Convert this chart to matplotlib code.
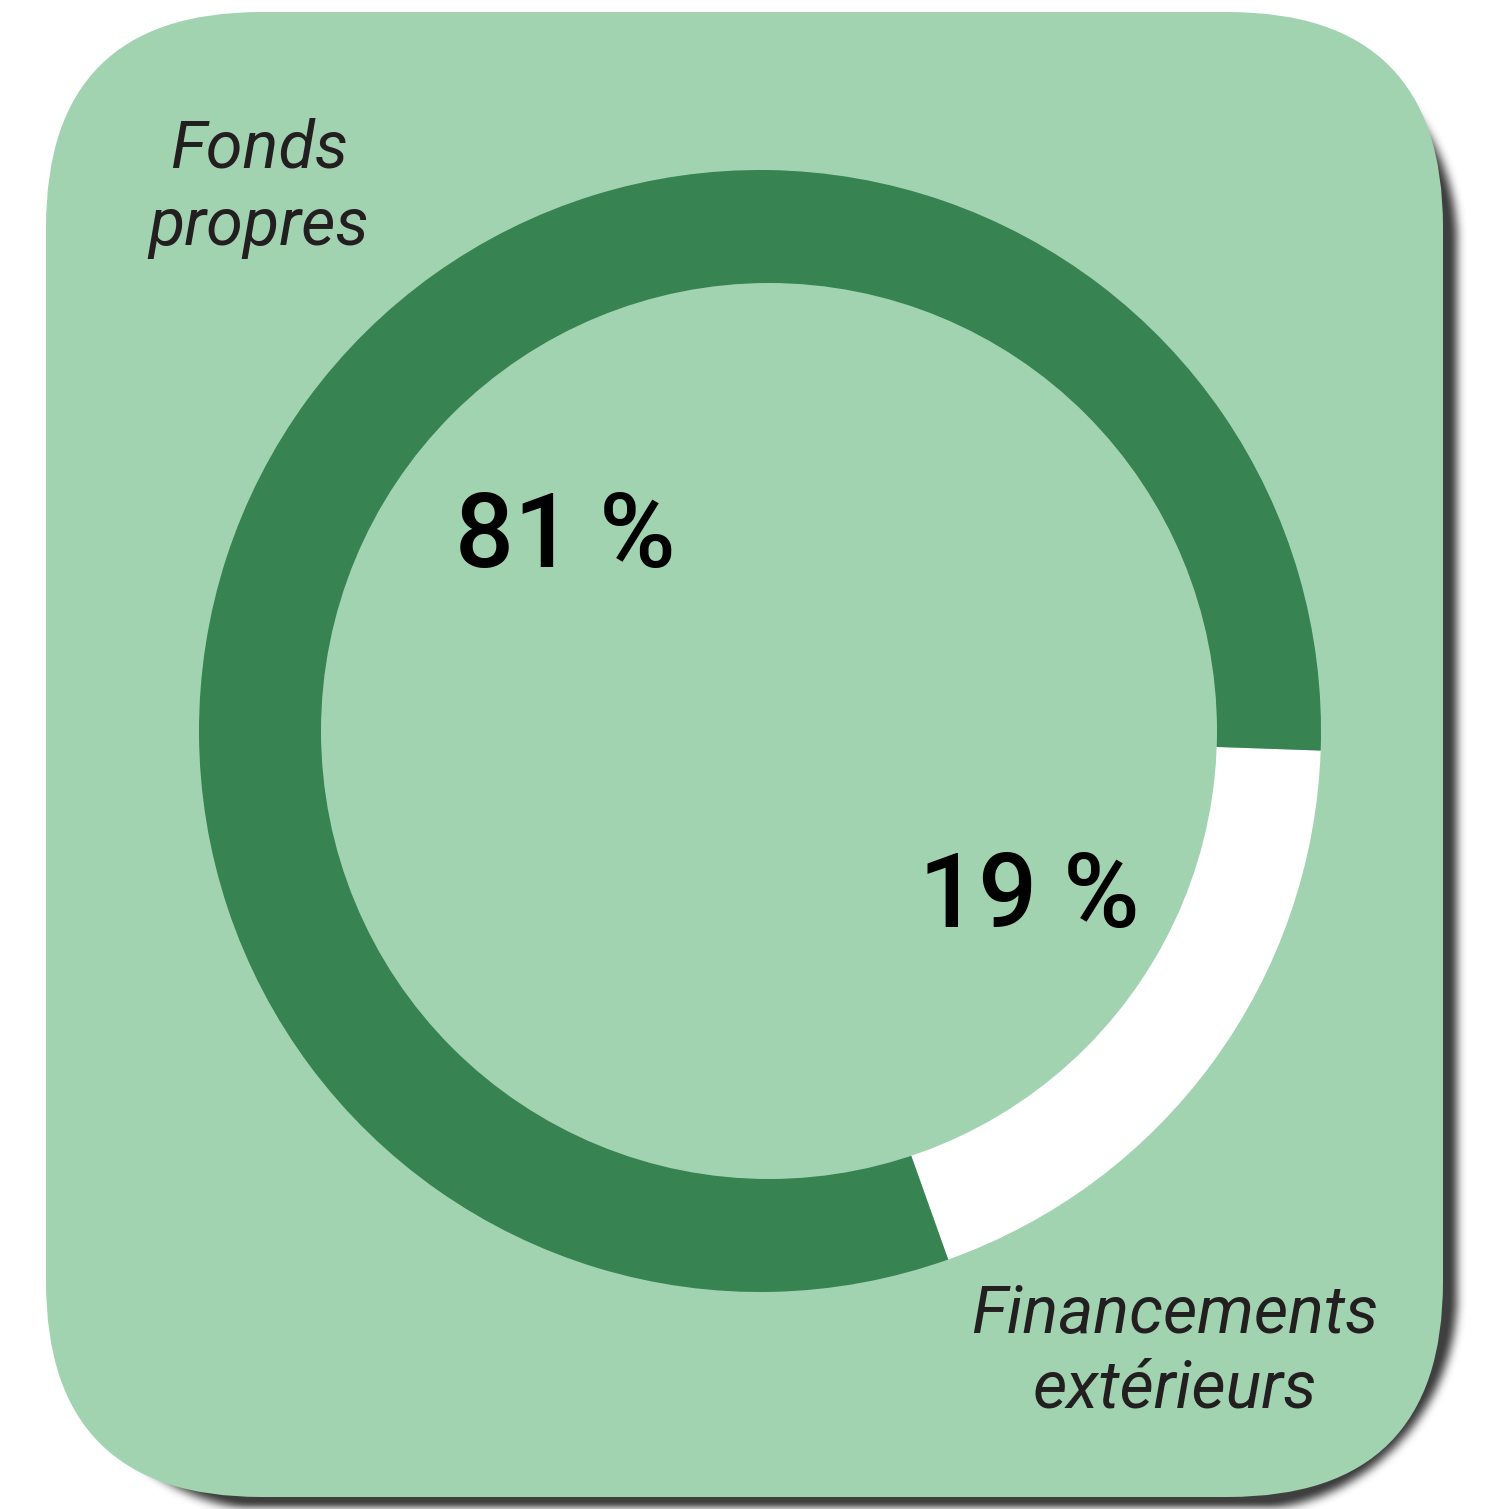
import numpy as np
import matplotlib.pyplot as plt
from matplotlib.patches import FancyBboxPatch, Circle

# ── Data ──
labels = ["Financements\nextérieurs", "Fonds\npropres"]
shares = [19, 81]
pct_labels = ["19 %", "81 %"]
colors = ["#ffffff", "#378352"]

BOX_COLOR = "#a1d3b1"
TEXT_COLOR = "#231f20"
FONT = ["Roboto", "DejaVu Sans"]

W, H = 1485, 1509
fig = plt.figure(figsize=(W / 100, H / 100), dpi=100)
ax = fig.add_axes([0, 0, 1, 1])
ax.axis("off")

# ── card geometry (pixel coords, y up) ──
bx, by, bw, bh, rad = 46, 12, 1397, 1485, 215


def rounded_mask(x0, y0, w, h, r):
    yy, xx = np.mgrid[0:H, 0:W] + 0.5
    yy = H - yy  # flip to y-up
    cx = np.clip(xx, x0 + r, x0 + w - r)
    cy = np.clip(yy, y0 + r, y0 + h - r)
    return ((xx - cx) ** 2 + (yy - cy) ** 2 <= r * r).astype(float)


def box_blur(a, k):
    ker = np.ones(k) / k
    a = np.apply_along_axis(lambda v: np.convolve(v, ker, mode="same"), 0, a)
    a = np.apply_along_axis(lambda v: np.convolve(v, ker, mode="same"), 1, a)
    return a


# soft drop shadow, offset right/down
shadow = rounded_mask(bx + 14, by - 14, bw, bh, rad)
for _ in range(3):
    shadow = box_blur(shadow, 9)
rgba = np.zeros((H, W, 4))
rgba[..., :3] = 0.25
rgba[..., 3] = np.clip(shadow * 1.05, 0, 1)
ax.imshow(rgba, extent=(0, W, 0, H), origin="upper", zorder=1,
          interpolation="nearest")

ax.add_patch(FancyBboxPatch((bx + rad, by + rad), bw - 2 * rad, bh - 2 * rad,
                            boxstyle=f"round,pad={rad}", fc=BOX_COLOR,
                            ec="none", zorder=2))

# ── donut (outer disc split, inner hole drawn on top) ──
wedges, _ = ax.pie(shares, colors=colors, startangle=-70.4, counterclock=True,
                   center=(760, 778), radius=561,
                   wedgeprops=dict(edgecolor="none"))
for w in wedges:
    w.set_zorder(3)
ax.add_patch(Circle((769, 778), 448, fc=BOX_COLOR, ec="none", zorder=3.5))

ax.set_xlim(0, W)
ax.set_ylim(0, H)
ax.set_aspect("auto")

# percentages
ax.text(1029, H - 927, pct_labels[0], fontsize=75, fontweight="medium",
        family=FONT, color="black", ha="center", va="baseline", zorder=4)
ax.text(565, H - 567, pct_labels[1], fontsize=75, fontweight="medium",
        family=FONT, color="black", ha="center", va="baseline", zorder=4)

# category labels, one line at a time
label_pos = [(1175, [1333, 1407]), (259, [167, 245])]
for lab, (x, bases) in zip(labels, label_pos):
    for line, yb in zip(lab.split("\n"), bases):
        ax.text(x, H - yb, line, fontsize=48, style="italic", family=FONT,
                color=TEXT_COLOR, ha="center", va="baseline", zorder=4)

fig.savefig("out.png", dpi=100, facecolor="white")
